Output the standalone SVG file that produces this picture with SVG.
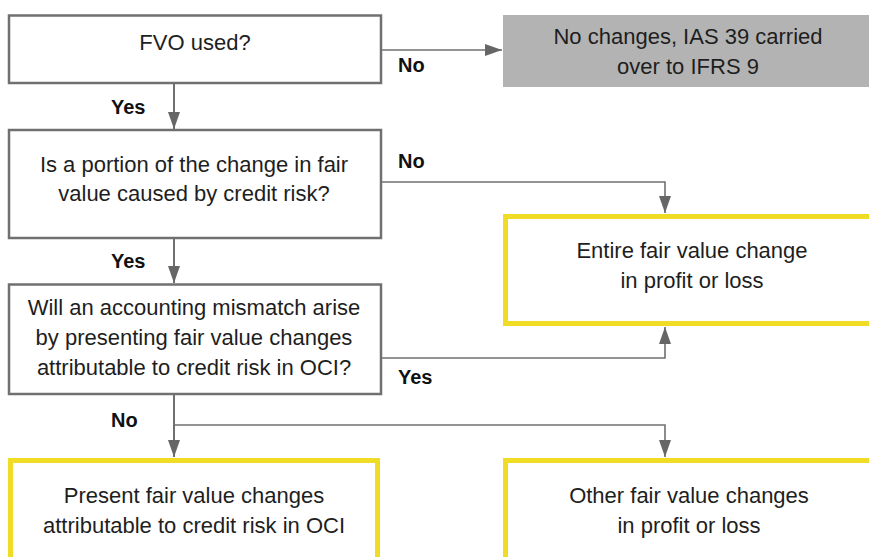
<svg xmlns="http://www.w3.org/2000/svg" width="869" height="557" viewBox="0 0 869 557">
<style>
.q{fill:#fff;stroke:#707070;stroke-width:2.5}
.g{fill:#b3b3b3;stroke:none}
.y{fill:#fff;stroke:#f0dc24;stroke-width:5}
.t{font-family:"Liberation Sans",Arial,sans-serif;font-size:22px;fill:#1e1e1e;text-anchor:middle}
.l{font-family:"Liberation Sans",Arial,sans-serif;font-size:20px;font-weight:bold;fill:#111}
.c{fill:none;stroke:#707070;stroke-width:1.6}
</style>
<defs>
<marker id="ah" markerUnits="userSpaceOnUse" markerWidth="17" markerHeight="12" refX="17" refY="6" orient="auto">
<path d="M0,0 L17,6 L0,12 z" fill="#666"/>
</marker>
</defs>
<rect width="869" height="557" fill="#fff"/>
<g id="connectors">
<path class="c" d="M382,50 H502" marker-end="url(#ah)"/>
<path class="c" d="M174,84 V129" marker-end="url(#ah)" style="stroke-width:2"/>
<path class="c" d="M174,239 V283" marker-end="url(#ah)" style="stroke-width:2"/>
<path class="c" d="M382,182 H665 V213" marker-end="url(#ah)"/>
<path class="c" d="M382,358 H665 V327" marker-end="url(#ah)"/>
<path class="c" d="M174,395 V457" marker-end="url(#ah)" style="stroke-width:2"/>
<path class="c" d="M174,425 H665 V457" marker-end="url(#ah)"/>
<text class="l" x="398" y="72">No</text>
<text class="l" x="111" y="114">Yes</text>
<text class="l" x="398" y="168">No</text>
<text class="l" x="111" y="268">Yes</text>
<text class="l" x="398" y="384">Yes</text>
<text class="l" x="111" y="427">No</text>
</g>
<g id="fvo">
<rect class="q" x="9" y="15.5" width="372" height="67.5"/>
<text class="t" x="195" y="50">FVO used?</text>
</g>
<g id="nochange">
<rect class="g" x="503" y="15" width="366" height="72"/>
<text class="t" x="688" y="44">No changes, IAS 39 carried</text>
<text class="t" x="688" y="74">over to IFRS 9</text>
</g>
<g id="portion">
<rect class="q" x="9" y="130" width="372" height="108"/>
<text class="t" x="194" y="172">Is a portion of the change in fair</text>
<text class="t" x="194" y="201">value caused by credit risk?</text>
</g>
<g id="mismatch">
<rect class="q" x="9" y="284.5" width="372" height="109.5"/>
<text class="t" x="194" y="315">Will an accounting mismatch arise</text>
<text class="t" x="194" y="345">by presenting fair value changes</text>
<text class="t" x="194" y="375">attributable to credit risk in OCI?</text>
</g>
<g id="entire">
<rect class="y" x="505.5" y="216.5" width="400" height="107"/>
<text class="t" x="692" y="258">Entire fair value change</text>
<text class="t" x="692" y="288">in profit or loss</text>
</g>
<g id="present">
<rect class="y" x="10.5" y="460.5" width="367" height="130"/>
<text class="t" x="194" y="503">Present fair value changes</text>
<text class="t" x="194" y="533">attributable to credit risk in OCI</text>
</g>
<g id="other">
<rect class="y" x="505.5" y="460.5" width="400" height="130"/>
<text class="t" x="689" y="503">Other fair value changes</text>
<text class="t" x="689" y="533">in profit or loss</text>
</g>
</svg>
